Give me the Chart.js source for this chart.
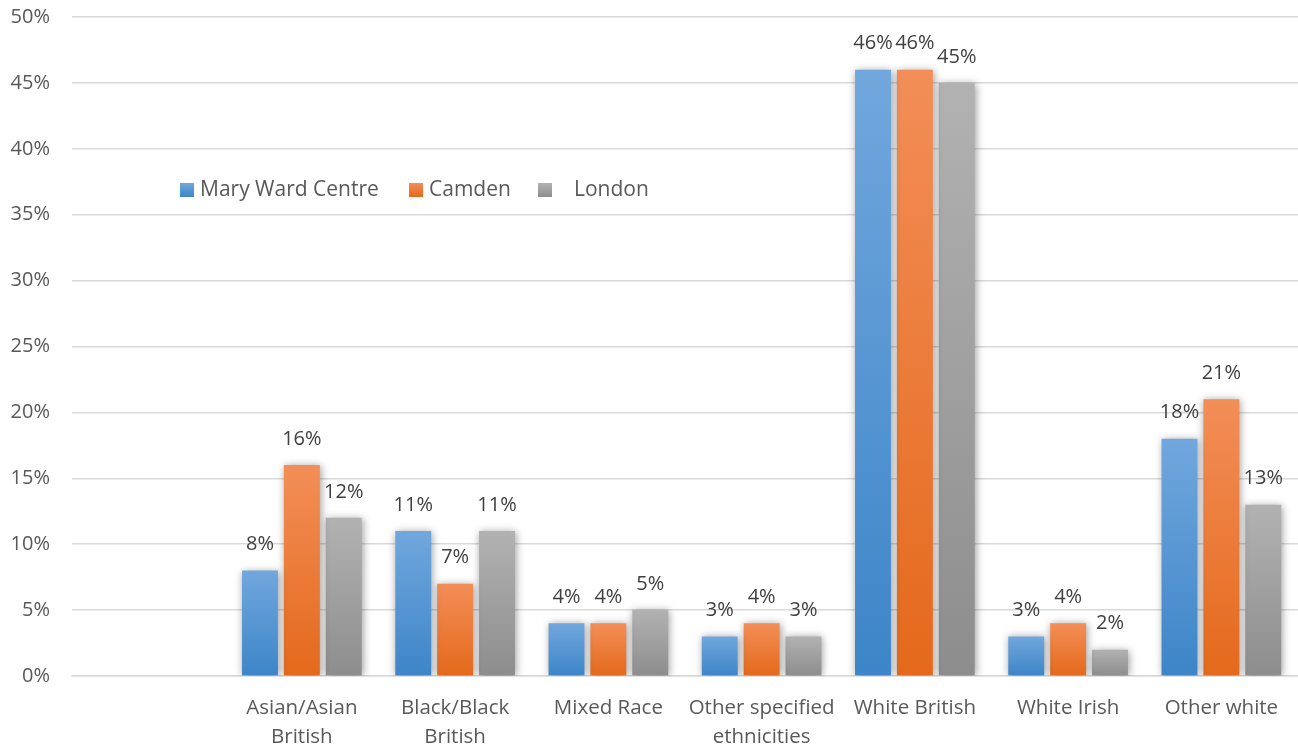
<!DOCTYPE html>
<html>
<head>
<meta charset="utf-8">
<script src="https://cdn.jsdelivr.net/npm/chart.js@4.4.1/dist/chart.umd.min.js"></script>
<style>
  html, body { margin: 0; padding: 0; background: #fff; }
  #wrap { width: 1298px; height: 747px; }
</style>
</head>
<body>
<div id="wrap"><canvas id="grafico"></canvas></div>
<script>
// categorias (a primeira fica vazia, como no original)
const categorias = [
    '',
    ['Asian/Asian', 'British'],
    ['Black/Black', 'British'],
    'Mixed Race',
    ['Other specified', 'ethnicities'],
    'White British',
    'White Irish',
    'Other white'
];

const maryWard = [null, 8, 11, 4, 3, 46, 3, 18];
const camden   = [null, 16, 7, 4, 4, 46, 4, 21];
const london   = [null, 12, 11, 5, 3, 45, 2, 13];

const nomesSeries = ['Mary Ward Centre', 'Camden', 'London'];
const FONTE = '"Open Sans", sans-serif';

// cores do degradê: [topo, base]
const cores = [
    ['#71a7dd', '#3d85c8'],
    ['#f38e58', '#e4691b'],
    ['#b2b2b2', '#8d8d8d']
];

// degradê por barra, do topo até a base
function degrade(i) {
    return (context) => {
        const chart = context.chart;
        const { chartArea, scales } = chart;
        if (!chartArea || context.parsed == null || context.parsed.y == null) return cores[i][0];
        const topo = scales.y.getPixelForValue(context.parsed.y);
        const base = scales.y.getPixelForValue(0);
        const g = chart.ctx.createLinearGradient(0, topo, 0, base);
        g.addColorStop(0, cores[i][0]);
        g.addColorStop(1, cores[i][1]);
        return g;
    };
}

// sombra suave nas barras
const sombraPlugin = {
    id: 'sombraPlugin',
    beforeDatasetsDraw(chart) {
        const ctx = chart.ctx;
        ctx.save();
        ctx.shadowColor = 'rgba(0,0,0,0.4)';
        ctx.shadowBlur = 8;
        ctx.shadowOffsetX = 1;
        ctx.shadowOffsetY = 1;
    },
    afterDatasetsDraw(chart) {
        chart.ctx.restore();
    }
};

// rótulos de valor acima das barras
const rotulosPlugin = {
    id: 'rotulosPlugin',
    afterDatasetsDraw(chart) {
        const ctx = chart.ctx;
        ctx.save();
        ctx.font = '20px ' + FONTE;
        ctx.fillStyle = '#404040';
        ctx.textAlign = 'center';
        ctx.textBaseline = 'middle';
        chart.data.datasets.forEach((ds, i) => {
            chart.getDatasetMeta(i).data.forEach((bar, idx) => {
                const v = ds.data[idx];
                if (v == null) return;
                ctx.fillText(v + '%', bar.x, bar.y - 26);
            });
        });
        ctx.restore();
    }
};

// legenda desenhada dentro da área do gráfico
const legendaPlugin = {
    id: 'legendaPlugin',
    afterDraw(chart) {
        const ctx = chart.ctx;
        const posicoes = [180, 409, 538];
        const textoX = [200, 429, 574];
        const y = 190;
        ctx.save();
        ctx.font = '21px ' + FONTE;
        ctx.textBaseline = 'middle';
        ctx.textAlign = 'left';
        nomesSeries.forEach((nome, i) => {
            const g = ctx.createLinearGradient(0, y - 7, 0, y + 7);
            g.addColorStop(0, cores[i][0]);
            g.addColorStop(1, cores[i][1]);
            ctx.fillStyle = g;
            ctx.fillRect(posicoes[i], y - 7, 14, 14);
            ctx.fillStyle = '#595959';
            ctx.fillText(nome, textoX[i], y);
        });
        ctx.restore();
    }
};

const dados = [maryWard, camden, london];

new Chart(document.getElementById('grafico'), {
    type: 'bar',
    data: {
        labels: categorias,
        datasets: dados.map((d, i) => ({
            label: nomesSeries[i],
            data: d,
            backgroundColor: degrade(i),
            borderWidth: 0,
            categoryPercentage: 0.82,
            barPercentage: 0.857
        }))
    },
    options: {
        responsive: true,
        maintainAspectRatio: false,
        animation: false,
        layout: { autoPadding: false, padding: { top: 17, right: 0, left: 0, bottom: 0 } },
        plugins: {
            legend: { display: false },
            tooltip: { enabled: false }
        },
        scales: {
            y: {
                min: 0,
                max: 50,
                ticks: {
                    stepSize: 5,
                    callback: v => v + '%',
                    color: '#595959',
                    font: { size: 20, family: FONTE },
                    padding: 22
                },
                grid: { color: '#d9d9d9', lineWidth: 1.5, drawTicks: false },
                border: { display: false },
                afterFit(scale) {
                    scale.width = 72;
                    // o padding dos ticks empurrava o topo para baixo
                    scale.paddingTop = 0;
                    scale.paddingBottom = 0;
                }
            },
            x: {
                ticks: {
                    color: '#595959',
                    font: { size: 20.5, family: FONTE, lineHeight: 1.45 },
                    padding: 9,
                    maxRotation: 0,
                    autoSkip: false
                },
                grid: { display: false },
                border: { color: '#d9d9d9', width: 1.5 },
                afterFit(scale) { scale.height = 71; }
            }
        }
    },
    plugins: [sombraPlugin, rotulosPlugin, legendaPlugin]
});
</script>
</body>
</html>
